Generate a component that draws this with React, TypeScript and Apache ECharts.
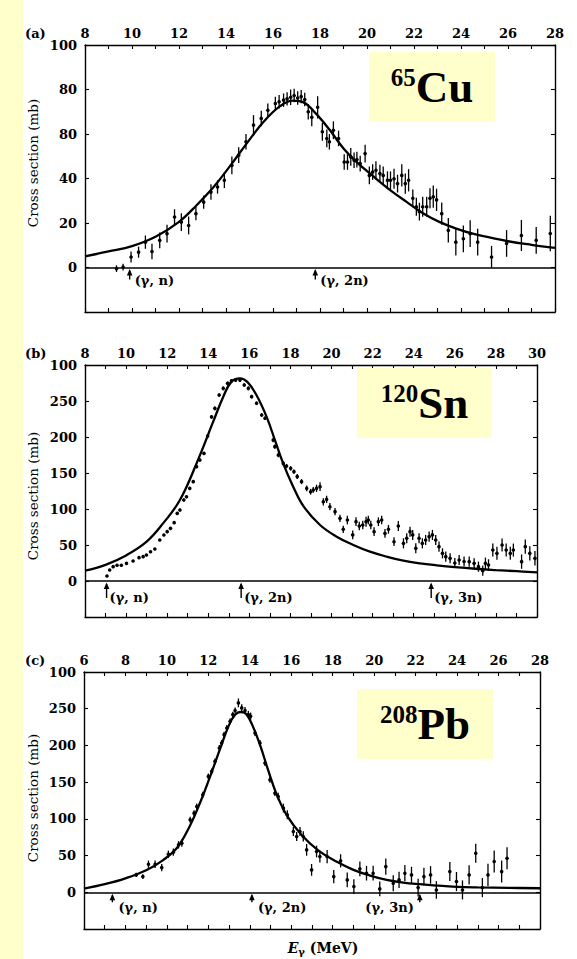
import React, { useEffect, useRef } from 'react';
import * as echarts from 'echarts';

// ---------- Panel (a): 65Cu ----------
const cuE = [9.34, 9.62, 9.96, 10.28, 10.57, 10.85, 11.18, 11.49, 11.81, 12.1, 12.41, 12.72, 13.05, 13.36, 13.64, 13.93, 14.25, 14.54, 14.85, 15.17, 15.5, 15.78, 16.1, 16.26, 16.45, 16.6, 16.75, 16.9, 17.05, 17.2, 17.35, 17.5, 17.65, 17.9, 18.1, 18.29, 18.4, 18.57, 18.79, 19.03, 19.17, 19.31, 19.45, 19.57, 19.71, 19.92, 20.1, 20.24, 20.38, 20.55, 20.69, 20.87, 21.0, 21.15, 21.3, 21.48, 21.63, 21.77, 21.95, 22.1, 22.23, 22.37, 22.54, 22.68, 22.82, 22.96, 23.18, 23.46, 23.78, 24.1, 24.39, 24.71, 25.3, 25.94, 26.57, 27.2, 27.8];
const cuSigma = [-0.5, 0.2, 4.7, 6.9, 11.4, 7.2, 12.2, 15.2, 22.7, 20.4, 18.9, 24.2, 29.4, 33.9, 36.2, 39.2, 45.9, 50.5, 56.5, 64.0, 67.0, 70.7, 73.7, 74.5, 75.2, 75.8, 76.5, 77.3, 76.2, 76.8, 75.5, 70.0, 67.5, 72.0, 61.0, 58.0, 56.5, 61.7, 58.0, 47.4, 47.4, 49.7, 48.2, 48.5, 46.7, 51.2, 41.4, 42.9, 43.7, 42.2, 41.4, 39.2, 39.2, 39.9, 37.7, 41.4, 37.7, 39.2, 31.1, 27.3, 25.1, 27.3, 27.3, 31.1, 31.8, 30.4, 24.2, 16.7, 11.4, 12.9, 15.2, 11.4, 4.7, 10.8, 14.4, 12.2, 15.3];
const cuErr = [1.5, 1.5, 2.5, 2.5, 3, 3.5, 3.5, 4, 3.5, 4, 4, 3, 3, 3.5, 3, 3.5, 4, 3.5, 3.5, 4.5, 3.5, 3, 3, 3, 3, 3, 3.5, 3, 3, 3, 3, 3.5, 4, 5, 4, 4, 3.5, 4, 3.5, 3.5, 3.5, 4, 3.5, 3.5, 3.5, 4, 4, 3.5, 4, 4, 4, 4, 4, 4.5, 4, 5, 4.5, 5, 4, 4, 4, 4.5, 4.5, 4.5, 5, 5, 5, 5.5, 6, 6, 6, 6, 5, 6, 7, 6, 8];
const cuCurveE = [8, 9, 10, 11, 12, 12.75, 13.5, 14.2, 14.9, 15.6, 16.3, 16.85, 17.3, 17.8, 18.4, 19, 19.55, 20.3, 21, 21.7, 22.4, 23.1, 23.8, 24.5, 25.25, 26, 27, 28];
const cuCurveSigma = [5, 7.2, 9.6, 13.8, 20.5, 28, 36.5, 46, 56, 65.5, 72.5, 75, 74.2, 69.5, 62, 53.5, 47.5, 40.7, 34.7, 29.4, 24.3, 20.4, 17.5, 15.2, 13.4, 11.8, 10.2, 8.8];
const cuYLabels = ['0', '20', '40', '80', '80', '100'];
const cuThresholds = [9.9, 17.8];
const cuThresholdLabels = ['(γ, n)', '(γ, 2n)'];

// ---------- Panel (b): 120Sn ----------
const snE = [9.07, 9.2, 9.37, 9.56, 9.77, 10.02, 10.34, 10.63, 10.83, 10.99, 11.19, 11.4, 11.64, 11.84, 12.0, 12.16, 12.34, 12.49, 12.62, 12.81, 12.94, 13.1, 13.27, 13.43, 13.59, 13.79, 13.97, 14.16, 14.32, 14.53, 14.73, 14.94, 15.13, 15.33, 15.54, 15.75, 15.95, 16.11, 16.35, 16.6, 16.76, 17.16, 17.24, 17.41, 17.65, 17.81, 18.01, 18.17, 18.33, 18.54, 18.79, 18.98, 19.11, 19.27, 19.44, 19.6, 19.76, 19.92, 20.17, 20.41, 20.57, 20.77, 21.03, 21.19, 21.35, 21.52, 21.68, 21.79, 21.91, 22.07, 22.28, 22.44, 22.6, 22.77, 23.04, 23.25, 23.5, 23.66, 23.82, 23.95, 24.1, 24.26, 24.42, 24.58, 24.75, 24.91, 25.07, 25.23, 25.4, 25.56, 25.77, 26.0, 26.21, 26.45, 26.7, 26.94, 27.15, 27.36, 27.49, 27.64, 27.85, 28.05, 28.3, 28.5, 28.7, 28.85, 29.25, 29.43, 29.65, 29.9];
const snSigma = [6.9, 15.3, 19.9, 21.8, 21.8, 24.5, 27.8, 32.4, 33.8, 36.1, 40.7, 44.4, 56.9, 63.9, 68.5, 73.1, 81, 94, 98.6, 112.5, 117, 128.7, 138, 158.8, 168, 177.3, 201.4, 228, 239.8, 258.3, 267.6, 274.5, 278, 279, 279, 272.2, 267.6, 256, 246.8, 230.6, 226, 195.8, 186.6, 175, 163.4, 159.7, 156.5, 151.9, 145, 138, 128.7, 124, 126.4, 128.7, 131, 110, 113.4, 103.2, 96.3, 87, 71.8, 84.7, 64, 82.4, 76.4, 77.8, 82.4, 84.7, 77.8, 68.5, 82.4, 84.7, 66.2, 71.8, 54.6, 76.4, 52.3, 59.3, 68.5, 64, 45.4, 59.3, 52.3, 57, 61.6, 64, 57, 47.7, 38.4, 33.8, 31.5, 25, 29.2, 27, 26.9, 24.5, 19.9, 14.4, 24.5, 22.2, 43, 38.4, 50, 43, 38.4, 43, 26.9, 47.7, 38.4, 31.5];
const snErr = [1, 1, 1, 1, 1, 1, 1, 1, 1, 1, 1, 1, 1.5, 1.5, 1.5, 1.5, 1.5, 2, 2, 2, 2, 2, 2, 2, 2, 2, 2.5, 2.5, 2.5, 2.5, 2.5, 2.5, 2.5, 2.5, 2.5, 2.5, 2.5, 2.5, 2.5, 2.5, 2.5, 3, 3, 3, 3, 3, 3, 3, 3.5, 3.5, 4, 4, 4, 5, 6, 5, 5, 5, 5, 5, 5, 6, 6, 6, 6, 6, 7, 6, 6, 6, 6, 6, 6, 6, 6, 7, 7, 7, 7, 7, 7, 7, 7, 7, 7, 7, 7, 7, 7, 7, 7, 7, 7, 7, 7, 7, 7, 7, 8, 8, 9, 9, 9, 9, 9, 9, 10, 10, 10, 10];
const snCurveE = [8, 9, 10, 11, 11.8, 12.62, 13.43, 14.24, 14.73, 15.13, 15.54, 15.9, 16.35, 16.84, 17.24, 17.65, 18.1, 18.63, 19.44, 20.25, 21.06, 21.87, 22.69, 23.5, 24.31, 25.12, 26, 27, 28, 29, 30];
const snCurveSigma = [14.3, 22.5, 35.5, 54.6, 80, 112.5, 163.4, 221.3, 256, 276.9, 281.5, 276.5, 258, 228, 196, 163, 133, 104, 77.8, 61.6, 50, 40.7, 33.8, 28.2, 24.5, 21.8, 19.3, 17, 15.2, 13.6, 12];
const snYLabels = ['0', '50', '100', '150', '200', '250', '100'];
const snThresholds = [9.05, 15.6, 24.85];
const snThresholdLabels = ['(γ, n)', '(γ, 2n)', '(γ, 3n)'];

// ---------- Panel (c): 208Pb ----------
const pbE = [8.52, 8.84, 9.11, 9.43, 9.75, 10.07, 10.31, 10.56, 10.72, 11.12, 11.31, 11.44, 11.73, 12.0, 12.16, 12.32, 12.53, 12.64, 12.76, 12.89, 13.05, 13.18, 13.29, 13.45, 13.61, 13.77, 13.93, 14.04, 14.25, 14.49, 14.73, 14.97, 15.21, 15.37, 15.62, 15.81, 16.1, 16.26, 16.42, 16.58, 16.74, 16.98, 17.22, 17.38, 17.73, 18.05, 18.38, 18.7, 19.02, 19.31, 19.63, 19.95, 20.27, 20.56, 20.92, 21.2, 21.48, 21.8, 22.12, 22.4, 22.72, 23.0, 23.65, 23.97, 24.26, 24.58, 24.9, 25.22, 25.49, 25.79, 26.15, 26.41];
const pbSigma = [23.7, 21.4, 38.2, 38.2, 33.6, 51.8, 54.6, 64.6, 66.9, 98.7, 107.8, 116.9, 132.8, 157.8, 164.6, 178.3, 196.5, 203.3, 214.7, 223.8, 232.9, 242, 247.5, 257.9, 251.1, 247.5, 242, 239.7, 217, 203.3, 176, 153.2, 135, 130.5, 114.6, 105.6, 82.8, 76, 82.8, 76, 57.8, 30.5, 55.5, 48.7, 48.7, 21.4, 42.8, 16.9, 7.8, 31.9, 26, 26, 4.6, 35, 12.3, 16.9, 26, 23.7, 6.4, 21.4, 23.7, 3.2, 28.2, 14.6, 3.2, 23.7, 53.2, 6.4, 23.7, 41.9, 28.2, 46.4];
const pbErr = [3, 3, 5, 5, 5, 5, 5, 5, 5, 4, 4, 4, 4, 4, 4, 4, 4, 4, 4, 4, 4, 4, 4, 6, 5, 5, 5, 5, 4, 4, 4, 4, 4, 5, 6, 6, 6, 6, 6, 7, 8, 8, 8, 8, 9, 9, 9, 10, 10, 10, 10, 10, 10, 11, 11, 11, 11, 11, 12, 12, 12, 12, 13, 13, 13, 13, 13, 13, 15, 15, 15, 15];
const pbCurveE = [6, 7, 8, 9, 9.8, 10.5, 11.1, 11.6, 12.1, 12.6, 13.0, 13.3, 13.55, 13.8, 14.1, 14.5, 14.9, 15.3, 15.8, 16.5, 17.3, 18.2, 19, 19.8, 20.6, 21.4, 22.2, 23, 24, 25, 26.5, 28];
const pbCurveSigma = [5, 11, 19, 30, 43.5, 61, 90, 122, 159, 198, 228, 242, 245.5, 243.5, 229, 200, 165, 133, 104, 78, 57, 41.5, 30.5, 22.8, 17, 13.3, 11, 9.2, 7.5, 6.7, 6, 5.5];
const pbYLabels = ['0', '50', '100', '150', '200', '250', '100'];
const pbThresholds = [7.37, 14.1, 22.2];
const pbThresholdLabels = ['(γ, n)', '(γ, 2n)', '(γ, 3n)'];

const panelLetters = ['(a)', '(b)', '(c)'];
const nucleusMass = ['65', '120', '208'];
const nucleusSymbol = ['Cu', 'Sn', 'Pb'];

const SERIF = '"DejaVu Serif", serif';
const TIMES = '"Liberation Serif", "Times New Roman", serif';
const YELLOW = '#FFFFCC';

const panels = [
  {
    E: cuE, S: cuSigma, err: cuErr, cE: cuCurveE, cS: cuCurveSigma, yLabels: cuYLabels,
    thr: cuThresholds, thrLabels: cuThresholdLabels,
    xMin: 8, xMax: 28, yMin: -20, yMax: 100, yInt: 20,
    grid: { left: 85, top: 45, width: 470, height: 267 },
    arrow: { len: 12, dx: 5, dy: 13, side: ['right', 'right'] },
    letterY: 33, nameY: 163,
    box: { x: 369, y: 52, w: 126, h: 70 },
  },
  {
    E: snE, S: snSigma, err: snErr, cE: snCurveE, cS: snCurveSigma, yLabels: snYLabels,
    thr: snThresholds, thrLabels: snThresholdLabels,
    xMin: 8, xMax: 30, yMin: -50, yMax: 300, yInt: 50,
    grid: { left: 85, top: 365, width: 452, height: 252 },
    arrow: { len: 17, dx: 3, dy: 16, side: ['right', 'right', 'right'] },
    letterY: 353, nameY: 496,
    box: { x: 357, y: 368, w: 135, h: 70 },
  },
  {
    E: pbE, S: pbSigma, err: pbErr, cE: pbCurveE, cS: pbCurveSigma, yLabels: pbYLabels,
    thr: pbThresholds, thrLabels: pbThresholdLabels,
    xMin: 6, xMax: 28, yMin: -50, yMax: 300, yInt: 50,
    grid: { left: 84, top: 672, width: 456, height: 257 },
    arrow: { len: 10, dx: 6, dy: 15, side: ['right', 'right', 'left'] },
    letterY: 660, nameY: 798,
    box: { x: 357, y: 689, w: 136, h: 70 },
  },
];

function buildOption() {
  const grids: any[] = [];
  const xAxes: any[] = [];
  const yAxes: any[] = [];
  const series: any[] = [];
  const graphics: any[] = [];

  graphics.push({ type: 'rect', shape: { x: 0, y: 0, width: 23, height: 959 }, style: { fill: YELLOW }, z: -10, silent: true });

  const axisLine = { show: true, onZero: false, lineStyle: { color: '#000', width: 1.4 } };
  const tick = { show: true, inside: true, length: 4, lineStyle: { color: '#000', width: 1.1 } };
  const labelStyle = { color: '#000', fontFamily: SERIF, fontWeight: 'bold', fontSize: 13 };

  panels.forEach((p, i) => {
    grids.push({ ...p.grid, show: false, containLabel: false });
    const xBase = {
      gridIndex: i, type: 'value', min: p.xMin, max: p.xMax, interval: 2,
      axisLine, axisTick: tick,
      minorTick: { show: true, splitNumber: 2, length: 4, lineStyle: { color: '#000', width: 1.1 } },
      splitLine: { show: false }, minorSplitLine: { show: false },
    };
    xAxes.push({ ...xBase, position: 'top', axisLabel: { ...labelStyle, margin: 5, showMinLabel: true, showMaxLabel: true } });
    xAxes.push({ ...xBase, position: 'bottom', axisLabel: { show: false } });
    const yBase = {
      gridIndex: i, type: 'value', min: p.yMin, max: p.yMax, interval: p.yInt,
      axisLine, axisTick: tick, splitLine: { show: false },
    };
    const labels = p.yLabels;
    const yInt = p.yInt;
    yAxes.push({
      ...yBase, position: 'left',
      axisLabel: {
        ...labelStyle, margin: 8, showMinLabel: true, showMaxLabel: true,
        formatter: (v: number) => (v < 0 ? '' : labels[Math.round(v / yInt)] ?? ''),
      },
    });
    yAxes.push({ ...yBase, position: 'right', axisLabel: { show: false } });

    // fitted curve
    series.push({
      type: 'line', xAxisIndex: 2 * i, yAxisIndex: 2 * i,
      data: p.cE.map((e, k) => [e, p.cS[k]]),
      smooth: 0.4, showSymbol: false, symbol: 'none',
      lineStyle: { color: '#000', width: 2.3 },
      z: 3,
      markLine: {
        silent: true, symbol: ['none', 'none'], label: { show: false },
        lineStyle: { color: '#000', width: 1.5, type: 'solid' },
        data: [{ yAxis: 0 }],
      },
    });

    // data points with error bars
    series.push({
      type: 'custom', xAxisIndex: 2 * i, yAxisIndex: 2 * i,
      data: p.E.map((e, k) => [e, p.S[k], p.err[k]]),
      encode: { x: 0, y: 1 },
      z: 4,
      renderItem: (params: any, api: any) => {
        const x = api.value(0), y = api.value(1), er = api.value(2);
        const c = api.coord([x, y]);
        const lo = api.coord([x, y - er]);
        const hi = api.coord([x, y + er]);
        return {
          type: 'group',
          children: [
            { type: 'line', shape: { x1: c[0], y1: lo[1], x2: c[0], y2: hi[1] }, style: { stroke: '#000', lineWidth: 1.3 } },
            { type: 'circle', shape: { cx: c[0], cy: c[1], r: 1.8 }, style: { fill: '#000' } },
          ],
        };
      },
    });

    // threshold arrows with labels
    const arr = p.arrow;
    const thrLabels = p.thrLabels;
    series.push({
      type: 'custom', xAxisIndex: 2 * i, yAxisIndex: 2 * i,
      data: p.thr.map((e) => [e, 0]),
      encode: { x: 0, y: 1 },
      z: 5,
      renderItem: (params: any, api: any) => {
        const c = api.coord([api.value(0), api.value(1)]);
        const x = c[0], y0 = c[1];
        const idx = params.dataIndex;
        const left = arr.side[idx] === 'left';
        return {
          type: 'group',
          children: [
            { type: 'line', shape: { x1: x, y1: y0 + 3, x2: x, y2: y0 + arr.len }, style: { stroke: '#000', lineWidth: 1.4 } },
            { type: 'polygon', shape: { points: [[x, y0 + 1.5], [x - 2.8, y0 + 8], [x + 2.8, y0 + 8]] }, style: { fill: '#000' } },
            {
              type: 'text', x: left ? x - 6 : x + arr.dx, y: y0 + arr.dy,
              style: { text: thrLabels[idx], fill: '#000', font: `bold 13px ${SERIF}`, align: left ? 'right' : 'left', verticalAlign: 'middle' },
            },
          ],
        };
      },
    });

    // panel letter
    graphics.push({
      type: 'text', x: 25, y: p.letterY,
      style: { text: panelLetters[i], fill: '#000', font: `bold 13px ${SERIF}`, align: 'left', verticalAlign: 'middle' },
    });
    // y-axis title
    graphics.push({
      type: 'text', x: 33, y: p.nameY, rotation: Math.PI / 2,
      style: { text: 'Cross section (mb)', fill: '#000', font: `13.5px ${SERIF}`, align: 'center', verticalAlign: 'middle' },
    });
    // nucleus label box
    const b = p.box;
    graphics.push({ type: 'rect', shape: { x: b.x, y: b.y, width: b.w, height: b.h }, style: { fill: YELLOW }, z: 10 });
    graphics.push({
      type: 'text', x: b.x + b.w / 2, y: b.y + b.h / 2, z: 11,
      style: {
        text: `{sup|${nucleusMass[i]}}{big|${nucleusSymbol[i]}}`,
        align: 'center', verticalAlign: 'middle',
        rich: {
          sup: { fontFamily: TIMES, fontWeight: 'bold', fontSize: 25, lineHeight: 16, verticalAlign: 'top', fill: '#000', color: '#000' },
          big: { fontFamily: TIMES, fontWeight: 'bold', fontSize: 45, lineHeight: 44, fill: '#000', color: '#000' },
        },
      },
    });
  });

  // x-axis title
  graphics.push({
    type: 'text', x: 323, y: 948,
    style: {
      text: '{e|E}{g|γ}{m| (MeV)}', align: 'center', verticalAlign: 'middle',
      rich: {
        e: { fontFamily: SERIF, fontWeight: 'bold', fontStyle: 'italic', fontSize: 14, fill: '#000', lineHeight: 17 },
        g: { fontFamily: SERIF, fontWeight: 'bold', fontSize: 10, fill: '#000', verticalAlign: 'bottom', lineHeight: 13 },
        m: { fontFamily: SERIF, fontWeight: 'bold', fontSize: 14, fill: '#000', lineHeight: 17 },
      },
    },
  });

  return {
    animation: false,
    backgroundColor: '#fff',
    grid: grids,
    xAxis: xAxes,
    yAxis: yAxes,
    series,
    graphic: graphics,
  };
}

export default function App() {
  const ref = useRef<HTMLDivElement>(null);
  useEffect(() => {
    if (!ref.current) return;
    const chart = echarts.init(ref.current, undefined, { renderer: 'svg' });
    chart.setOption(buildOption() as any);
    return () => chart.dispose();
  }, []);
  return <div ref={ref} style={{ position: 'absolute', left: 0, top: 0, width: 577, height: 959 }} />;
}
